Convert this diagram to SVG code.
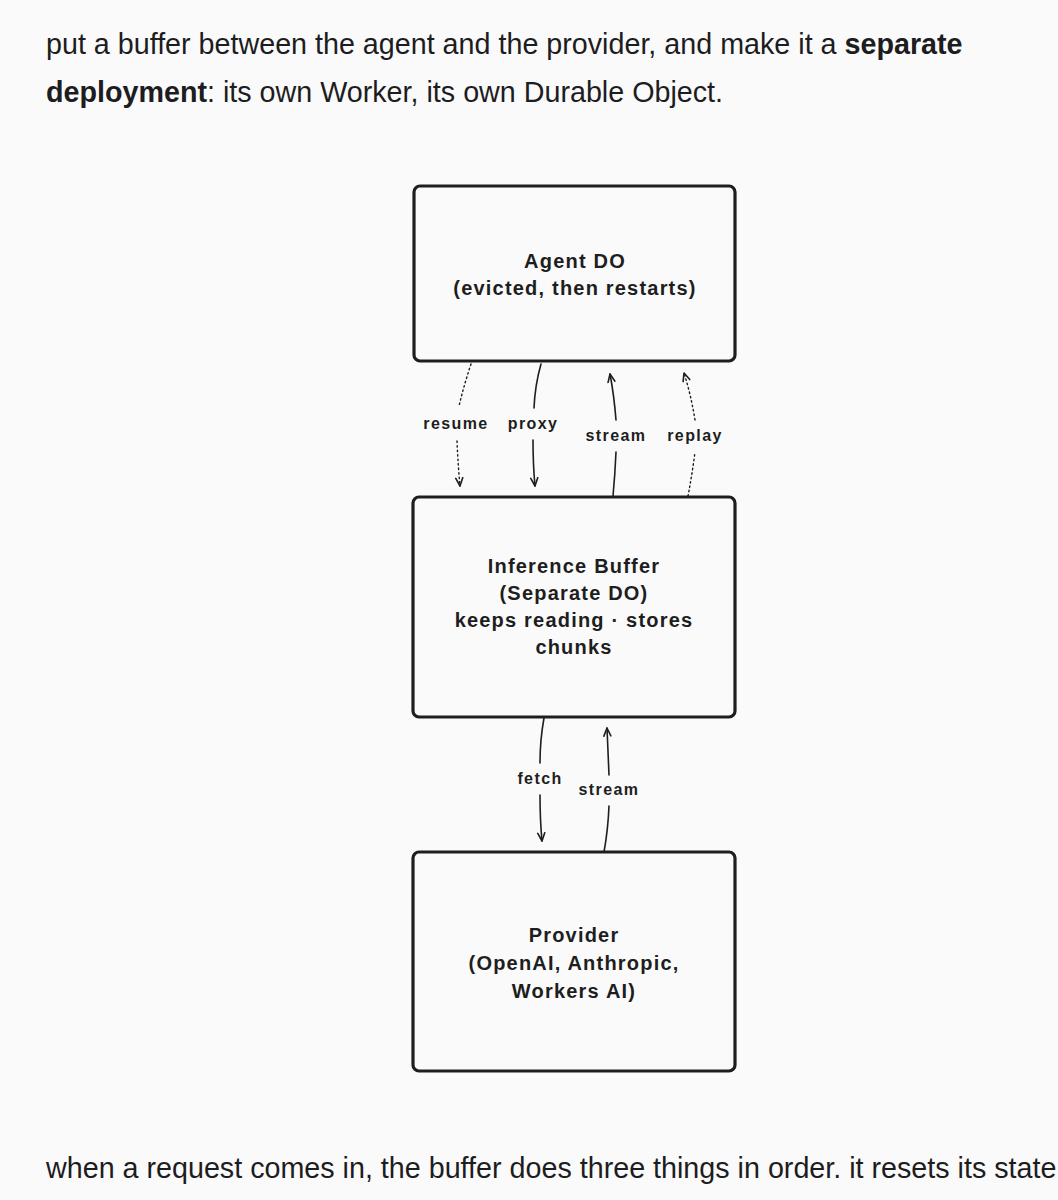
<svg xmlns="http://www.w3.org/2000/svg" width="1058" height="1200" viewBox="0 0 1058 1200">
<style>
.prose{font-family:"Liberation Sans",Arial,sans-serif;font-size:28.7px;fill:#1d1d1f}
.b{font-weight:bold}
.box{fill:#fafafa;stroke:#1e1e1e;stroke-width:3.2}
.nt{font-family:"Liberation Sans",Arial,sans-serif;font-size:20px;font-weight:bold;fill:#1e1e1e;text-anchor:middle;letter-spacing:1.2px}
.lt{font-family:"Liberation Sans",Arial,sans-serif;font-size:16px;font-weight:bold;fill:#1e1e1e;text-anchor:middle;letter-spacing:1.4px}
.solid{fill:none;stroke:#1e1e1e;stroke-width:1.6;stroke-linecap:round}
.dot{fill:none;stroke:#1e1e1e;stroke-width:1.4;stroke-dasharray:1.5 3;stroke-linecap:round}
</style>
<defs>
<marker id="ah" viewBox="0 0 10 10" refX="9" refY="5" markerWidth="10" markerHeight="10" markerUnits="userSpaceOnUse" orient="auto">
<path d="M1,1.5 L9,5 L1,8.5" fill="none" stroke="#1e1e1e" stroke-width="1.6" stroke-linecap="round" stroke-linejoin="round"/>
</marker>
</defs>
<rect x="0" y="0" width="1058" height="1200" fill="#fafafa"/>
<text class="prose" x="46" y="54">put a buffer between the agent and the provider, and make it a <tspan class="b">separate</tspan></text>
<text class="prose" x="46" y="102"><tspan class="b">deployment</tspan>: its own Worker, its own Durable Object.</text>
<text class="prose" x="46" y="1178">when a request comes in, the buffer does three things in order. it resets its state</text>

<g id="connectors">
<g id="e-resume">
<path class="dot" d="M471,364 Q464,385 459,406 M457,441 Q458,465 460,486" marker-end="url(#ah)"/>
<text class="lt" x="456" y="429">resume</text>
</g>
<g id="e-proxy">
<path class="solid" d="M541,364 Q535,385 534,408 M533,440 Q533,465 535,486" marker-end="url(#ah)"/>
<text class="lt" x="533" y="429">proxy</text>
</g>
<g id="e-stream1">
<path class="solid" d="M613,496 Q615,475 616,452 M616,420 Q614,395 610,374" marker-end="url(#ah)"/>
<text class="lt" x="616" y="441">stream</text>
</g>
<g id="e-replay">
<path class="dot" d="M688,496 Q692,475 695,452 M695,420 Q691,395 684,373" marker-end="url(#ah)"/>
<text class="lt" x="695" y="441">replay</text>
</g>
<g id="e-fetch">
<path class="solid" d="M544,718 Q540,740 540,763 M540,795 Q540,820 542,841" marker-end="url(#ah)"/>
<text class="lt" x="540" y="784">fetch</text>
</g>
<g id="e-stream2">
<path class="solid" d="M604,852 Q608,830 609,806 M609,775 Q608,750 607,728" marker-end="url(#ah)"/>
<text class="lt" x="609" y="795">stream</text>
</g>
</g>

<g id="agent">
<rect class="box" x="414" y="186" width="321" height="175" rx="6"/>
<text class="nt" x="575" y="268">Agent DO</text>
<text class="nt" x="575" y="295">(evicted, then restarts)</text>
</g>
<g id="buffer">
<rect class="box" x="413" y="497" width="322" height="220" rx="6"/>
<text class="nt" x="574" y="573">Inference Buffer</text>
<text class="nt" x="574" y="600">(Separate DO)</text>
<text class="nt" x="574" y="627">keeps reading · stores</text>
<text class="nt" x="574" y="654">chunks</text>
</g>
<g id="provider">
<rect class="box" x="413" y="852" width="322" height="219" rx="6"/>
<text class="nt" x="574" y="942">Provider</text>
<text class="nt" x="574" y="970">(OpenAI, Anthropic,</text>
<text class="nt" x="574" y="998">Workers AI)</text>
</g>
</svg>
